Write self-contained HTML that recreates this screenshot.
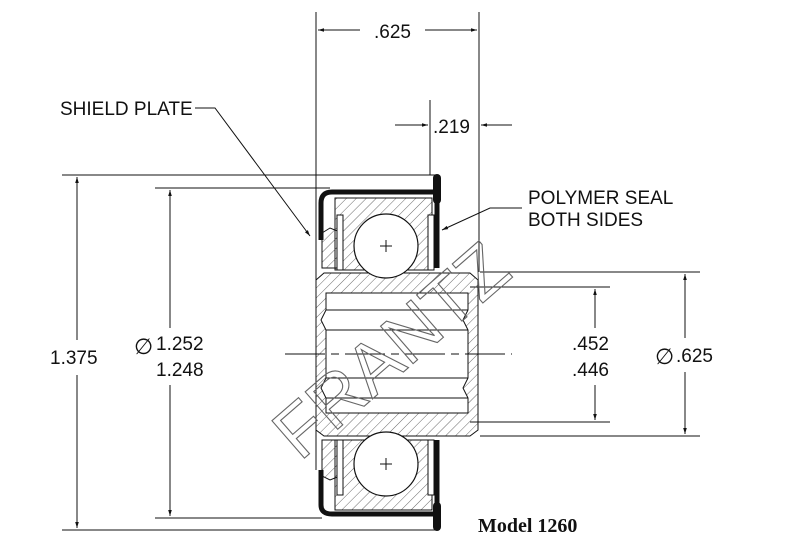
<!DOCTYPE html>
<html><head><meta charset="utf-8"><style>
html,body{margin:0;padding:0;background:#fff;}
svg{display:block;}
text{font-family:"Liberation Sans",sans-serif;fill:#111;}
</style></head><body>
<svg width="809" height="542" viewBox="0 0 809 542" xmlns="http://www.w3.org/2000/svg">
<defs>
<pattern id="h" width="7" height="7" patternUnits="userSpaceOnUse" patternTransform="rotate(45)">
<line x1="0" y1="0" x2="0" y2="7" stroke="#444" stroke-width="0.8"/></pattern>
<marker id="a" viewBox="0 0 10 10" refX="10" refY="5" markerWidth="9" markerHeight="6" orient="auto-start-reverse"><path d="M0,2 L10,5 L0,8 z" fill="#111"/></marker>
</defs>
<g stroke="#111" stroke-width="1" fill="none">
<line x1="316" y1="12" x2="316" y2="272"/><line x1="479" y1="12" x2="479" y2="272"/>
<line x1="318" y1="30" x2="360" y2="30" marker-start="url(#a)"/><line x1="425" y1="30" x2="477" y2="30" marker-end="url(#a)"/>
<line x1="430" y1="100" x2="430" y2="175"/>
<line x1="395" y1="125" x2="428" y2="125" marker-end="url(#a)"/><line x1="512" y1="125" x2="481" y2="125" marker-end="url(#a)"/>
<line x1="62" y1="175" x2="435" y2="175"/><line x1="62" y1="530" x2="435" y2="530"/>
<line x1="77" y1="177" x2="77" y2="340" marker-start="url(#a)"/><line x1="77" y1="375" x2="77" y2="528" marker-end="url(#a)"/>
<line x1="155" y1="188" x2="330" y2="188"/><line x1="155" y1="518" x2="322" y2="518"/>
<line x1="170" y1="190" x2="170" y2="328" marker-start="url(#a)"/><line x1="170" y1="385" x2="170" y2="516" marker-end="url(#a)"/>
<line x1="470" y1="287" x2="610" y2="287"/><line x1="470" y1="422" x2="610" y2="422"/>
<line x1="595" y1="289" x2="595" y2="328" marker-start="url(#a)"/><line x1="595" y1="385" x2="595" y2="420" marker-end="url(#a)"/>
<line x1="480" y1="272" x2="700" y2="272"/><line x1="480" y1="436" x2="700" y2="436"/>
<line x1="685" y1="274" x2="685" y2="338" marker-start="url(#a)"/><line x1="685" y1="372" x2="685" y2="434" marker-end="url(#a)"/>
<polyline points="195,108 215,108 310,236" marker-end="url(#a)"/>
<polyline points="522,208 490,208 442,230" marker-end="url(#a)"/>
</g>
<path d="M335,198 H432 V270 H335 Z" fill="url(#h)" stroke="#111"/>
<path d="M335,440 H432 V510 H335 Z" fill="url(#h)" stroke="#111"/>
<path d="M322,233 L330,228 L340,232 V268 H322 Z" fill="url(#h)" stroke="#111"/>
<path d="M322,440 H340 V476 L330,480 L322,476 Z" fill="url(#h)" stroke="#111"/>
<path d="M316,280 L324,273 H470 L478,280 V430 L470,436 H324 L316,430 Z" fill="url(#h)" stroke="#111"/>
<path d="M326,293 H468 V310 L463,320 L468,330 V378 L463,388 L468,398 V413 H326 V398 L321,388 L326,378 V330 L321,320 L326,310 Z" fill="#fff" stroke="#111"/>
<line x1="326" y1="310" x2="468" y2="310" stroke="#111"/><line x1="326" y1="330" x2="468" y2="330" stroke="#111"/>
<line x1="326" y1="378" x2="468" y2="378" stroke="#111"/><line x1="326" y1="398" x2="468" y2="398" stroke="#111"/>
<line x1="285" y1="354" x2="512" y2="354" stroke="#111" stroke-dasharray="40,6,8,6"/>
<rect x="337" y="215" width="6" height="55" fill="#fff" stroke="#111"/><rect x="428" y="215" width="6" height="55" fill="#fff" stroke="#111"/>
<rect x="337" y="440" width="6" height="55" fill="#fff" stroke="#111"/><rect x="428" y="440" width="6" height="55" fill="#fff" stroke="#111"/>
<circle cx="386" cy="246" r="32" fill="#fff" stroke="#111" stroke-width="1.2"/>
<circle cx="386" cy="464" r="32" fill="#fff" stroke="#111" stroke-width="1.2"/>
<path d="M380,246 H392 M386,240 V252 M380,464 H392 M386,458 V470" stroke="#111"/>
<path d="M321,240 V203 Q321,192 332,192 H433 M321,470 V505 Q321,514 332,514 H433" fill="none" stroke="#111" stroke-width="5"/>
<path d="M437,178 V200" stroke="#111" stroke-width="8" stroke-linecap="round"/>
<path d="M437,198 V268" stroke="#111" stroke-width="5"/>
<path d="M437,440 V508" stroke="#111" stroke-width="5"/>
<path d="M437,506 V527" stroke="#111" stroke-width="8" stroke-linecap="round"/>
<line x1="316" y1="240" x2="316" y2="470" stroke="#111"/>
<text x="0" y="0" transform="translate(300,462) rotate(-41)" font-size="72" style="fill:none;stroke:#666;stroke-width:1.1;font-family:'Liberation Sans',sans-serif">FRANTZ</text>
<text x="60" y="115" font-size="19">SHIELD PLATE</text>
<text x="374" y="38" font-size="19">.625</text>
<text x="433" y="133" font-size="19">.219</text>
<text x="528" y="204" font-size="19">POLYMER SEAL</text>
<text x="528" y="226" font-size="19">BOTH SIDES</text>
<text x="50" y="364" font-size="19">1.375</text>
<text x="134" y="354" font-size="22">∅</text>
<text x="156" y="350" font-size="19">1.252</text>
<text x="156" y="376" font-size="19">1.248</text>
<text x="572" y="350" font-size="19">.452</text>
<text x="572" y="376" font-size="19">.446</text>
<text x="655" y="364" font-size="22">∅</text>
<text x="676" y="362" font-size="19">.625</text>
<text x="478" y="532" font-size="20" font-weight="bold" style="font-family:'Liberation Serif',serif">Model 1260</text>
</svg>
</body></html>
